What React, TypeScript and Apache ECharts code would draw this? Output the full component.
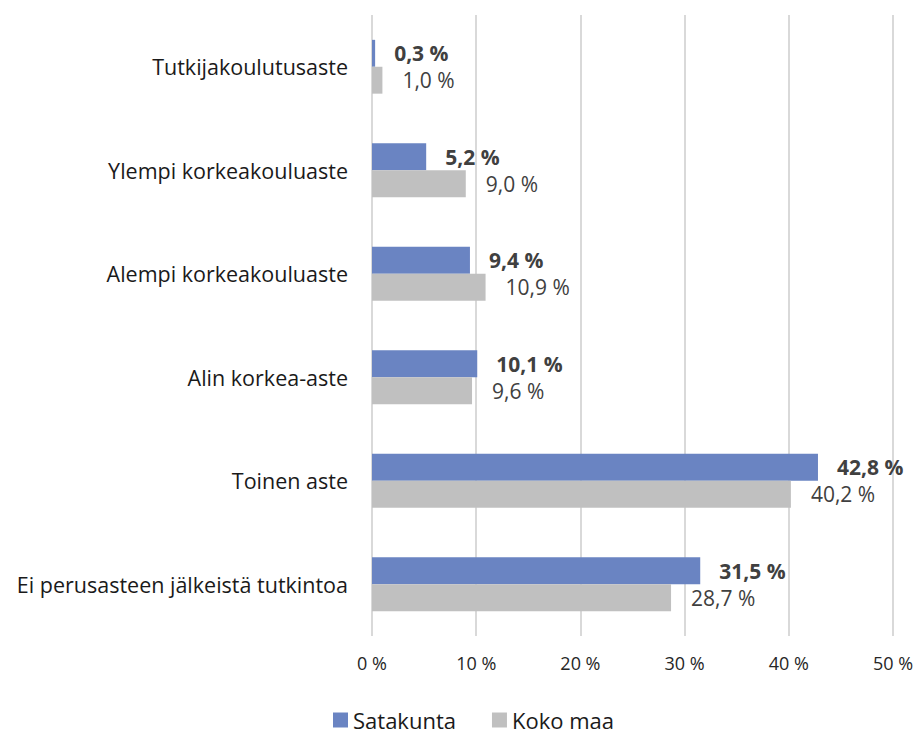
import React, { useEffect, useRef } from "react";
import * as echarts from "echarts";

const categories = [
  "Ei perusasteen jälkeistä tutkintoa",
  "Toinen aste",
  "Alin korkea-aste",
  "Alempi korkeakouluaste",
  "Ylempi korkeakouluaste",
  "Tutkijakoulutusaste",
];
const satakunta = [31.5, 42.8, 10.1, 9.4, 5.2, 0.3];
const kokoMaa = [28.7, 40.2, 9.6, 10.9, 9.0, 1.0];
const xTicks = [0, 10, 20, 30, 40, 50];

const FONT = "Open Sans";
const fmt = (v: number) => v.toFixed(1).replace(".", ",") + " %";

export default function App() {
  const ref = useRef<HTMLDivElement>(null);
  useEffect(() => {
    document.body.style.margin = "0";
    document.body.style.overflow = "hidden";
    if (!ref.current) return;
    const chart = echarts.init(ref.current, undefined, { renderer: "svg" });
    chart.setOption({
      animation: false,
      textStyle: { fontFamily: FONT },
      legend: {
        top: 709,
        left: 333,
        padding: 0,
        itemWidth: 15,
        itemHeight: 15,
        itemGap: 36,
        icon: "rect",
        textStyle: { fontFamily: FONT, fontSize: 22, lineHeight: 22, color: "#1a1a1a" },
        data: ["Satakunta", "Koko maa"],
      },
      grid: { left: 372, right: 24, top: 15, bottom: 99 },
      xAxis: {
        type: "value",
        min: xTicks[0],
        max: xTicks[xTicks.length - 1],
        interval: 10,
        axisLine: { show: false },
        axisTick: { show: false },
        splitLine: { lineStyle: { color: "#D9D9D9", width: 2 } },
        axisLabel: {
          fontFamily: FONT,
          fontSize: 18,
          color: "#262626",
          margin: 18,
          formatter: (v: number) => v + " %",
        },
      },
      yAxis: {
        type: "category",
        data: categories,
        axisLine: { show: false },
        axisTick: { show: false },
        axisLabel: {
          fontFamily: FONT,
          fontSize: 21.5,
          color: "#1a1a1a",
          margin: 24,
        },
      },
      series: [
        {
          name: "Satakunta",
          type: "bar",
          data: satakunta,
          barGap: "0%",
          barCategoryGap: "48%",
          itemStyle: { color: "#6A84C2" },
          label: {
            show: true,
            position: "right",
            distance: 19,
            fontFamily: FONT,
            fontSize: 21,
            fontWeight: "bold",
            color: "#404040",
            formatter: (p: any) => fmt(p.value),
          },
        },
        {
          name: "Koko maa",
          type: "bar",
          data: kokoMaa,
          itemStyle: { color: "#C0C0C0" },
          label: {
            show: true,
            position: "right",
            distance: 20,
            fontFamily: FONT,
            fontSize: 21,
            color: "#404040",
            formatter: (p: any) => fmt(p.value),
          },
        },
      ],
    });
    return () => chart.dispose();
  }, []);
  return <div ref={ref} style={{ width: 917, height: 735 }} />;
}
